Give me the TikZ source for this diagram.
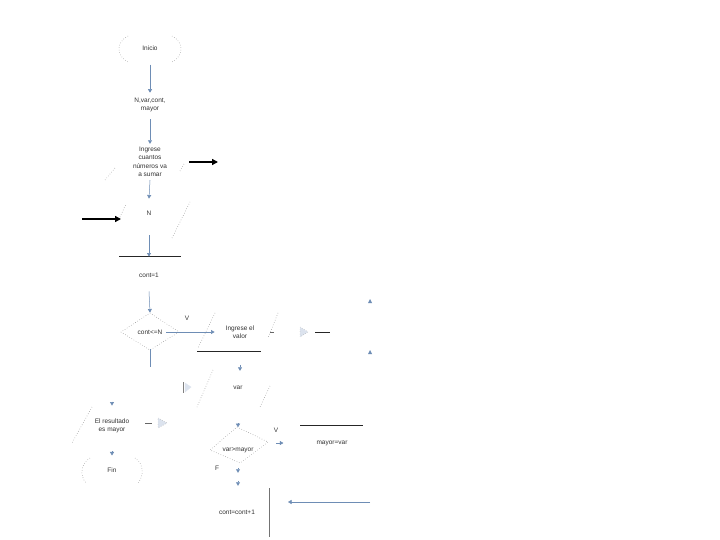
\documentclass[tikz,border=0pt]{standalone}
\usepackage{fontspec}
\setmainfont{Liberation Sans}
\usetikzlibrary{arrows.meta}
\definecolor{flowblue}{HTML}{6E8DB5}
\definecolor{ghost}{HTML}{DCE3EE}

\begin{document}
\begin{tikzpicture}[x=1pt, y=-1pt,
    txt/.style={font=\fontsize{6.5}{8.5}\selectfont, text=black!80, align=center, inner sep=0pt},
    flow/.style={draw=flowblue, line width=0.5pt, -{Triangle[width=4pt,length=3.5pt]}},
    faint/.style={draw=black!50, dotted, line width=0.5pt},
    heavy/.style={line width=1.3pt, -{Triangle[width=6pt,length=6pt]}}]
    \useasboundingbox[fill=white] (0,0) rectangle (720,540);

    % texts of the flowchart
    \node[txt] (inicio) at (150,48) {Inicio};
    \node[txt] (decl) at (150,105) {N,var,cont,\\mayor};
    \node[txt] (ingN) at (150,162) {Ingrese\\cuantos\\números va\\a sumar};
    \node[txt] (leeN) at (149,213) {N};
    \node[txt] (ini) at (149,275) {cont=1};
    \node[txt] (cond) at (150,332) {cont<=N};
    \node[txt] (ingvar) at (240,332) {Ingrese el\\valor};
    \node[txt] (leevar) at (238,388) {var};
    \node[txt] (res) at (112,426) {El resultado\\es mayor};
    \node[txt] (fin) at (112,470) {Fin};
    \node[txt] (comp) at (238,450) {var>mayor};
    \node[txt] (asig) at (332,443) {mayor=var};
    \node[txt] (inc) at (237,512) {cont=cont+1};
    \node[txt] (v1) at (187,318) {V};
    \node[txt] (v2) at (276,430) {V};
    \node[txt] (f1) at (217,468) {F};

    % terminators (only their ends show)
    \draw[faint] (128,36) .. controls (116,42) and (116,56) .. (128,62);
    \draw[faint] (172,36) .. controls (184,42) and (184,56) .. (172,62);
    \draw[faint] (90,458) .. controls (80,464) and (80,476) .. (86,483);
    \draw[faint] (135,458) .. controls (144,464) and (144,476) .. (138,483);

    % decisions
    \draw[faint] (150,313) -- (179,332) -- (150,350) -- (121,332) -- cycle;
    \draw[faint] (237,427) -- (268,442) -- (240,463) -- (210,450) -- cycle;

    % parallelogram sides
    \draw[faint] (105,180) -- (115,168);
    \draw[faint] (180,171) -- (184,164);
    \draw[faint] (120,217) -- (126,204);
    \draw[faint] (172,238) -- (190,202);
    \draw[faint] (215,313) -- (198,348);
    \draw[faint] (278,313) -- (268,338);
    \draw[faint] (213,370) -- (197,407);
    \draw[faint] (270,386) -- (260,407);
    \draw[faint] (92,407) -- (72,443);

    % solid lines
    \draw[black!85, line width=0.7pt] (119,256) -- (181,256);
    \draw[black!85, line width=0.7pt] (197,351) -- (261,351);
    \draw[black!85, line width=0.7pt] (300,425) -- (363,425);
    \draw[black!85, line width=0.7pt] (315,332) -- (330,332);
    \draw[black!60, line width=0.5pt] (270,332) -- (274,332);
    \draw[black!60, line width=0.5pt] (145,423) -- (152,423);
    \draw[black!55, line width=0.6pt] (269,488) -- (269,537);

    % ghost arrow tips
    \filldraw[ghost, draw=black!45, dotted] (300,327) -- (308,332) -- (300,337) -- cycle;
    \filldraw[ghost, draw=black!45, dotted] (158,418) -- (167,423) -- (158,428) -- cycle;
    \filldraw[ghost] (185,383) -- (191,387) -- (185,392) -- cycle;
    \draw[black!50, line width=0.5pt] (184,382) -- (183,382) -- (183,392) -- (184,392);

    % flow connectors
    \draw[flow] ([yshift=-14pt]inicio.south) -- ([yshift=5pt]decl.north);
    \draw[flow] ([yshift=-7pt]decl.south) -- ([yshift=3pt]ingN.north);
    \draw[flow] ([yshift=-3pt]ingN.south) -- ([yshift=12pt]leeN.north);
    \draw[flow] ([yshift=-20pt]leeN.south) -- ([yshift=16pt]ini.north);
    \draw[flow] ([yshift=-14pt]ini.south) -- ([yshift=17pt]cond.north);
    \draw[flow] ([xshift=4pt]cond.east) -- ([xshift=-11pt]ingvar.west);
    \draw[flowblue, line width=0.5pt] ([yshift=-15pt]cond.south) -- ([yshift=-33pt]cond.south);
    \draw[flow] ([yshift=-26pt]ingvar.south) -- ([yshift=-32pt]ingvar.south);
    \draw[flow] ([yshift=17pt]res.north) -- ([yshift=13pt]res.north);
    \draw[flow] ([yshift=-18pt]res.south) -- ([yshift=-22pt]res.south);
    \draw[flow] ([yshift=24pt]comp.north) -- ([yshift=20pt]comp.north);
    \draw[flow] ([yshift=-15pt]comp.south) -- ([yshift=-20pt]comp.south);
    \draw[flow] ([yshift=-28pt]comp.south) -- ([yshift=-33pt]comp.south);
    \draw[flow] ([xshift=-40pt]asig.west) -- ([xshift=-33pt]asig.west);
    \coordinate (back) at (370,502);
    \draw[flow] (back) -- ++(-82,0);
    \fill[flowblue] (368,303) -- (370,299) -- (372,303) -- cycle;
    \fill[flowblue] (368,354) -- (370,350) -- (372,354) -- cycle;

    % heavy arrows
    \coordinate (h1) at (189,162);
    \coordinate (h2) at (82,219);
    \draw[heavy] (h1) -- ++(29,0);
    \draw[heavy] (h2) -- ++(39,0);
\end{tikzpicture}
\end{document}
